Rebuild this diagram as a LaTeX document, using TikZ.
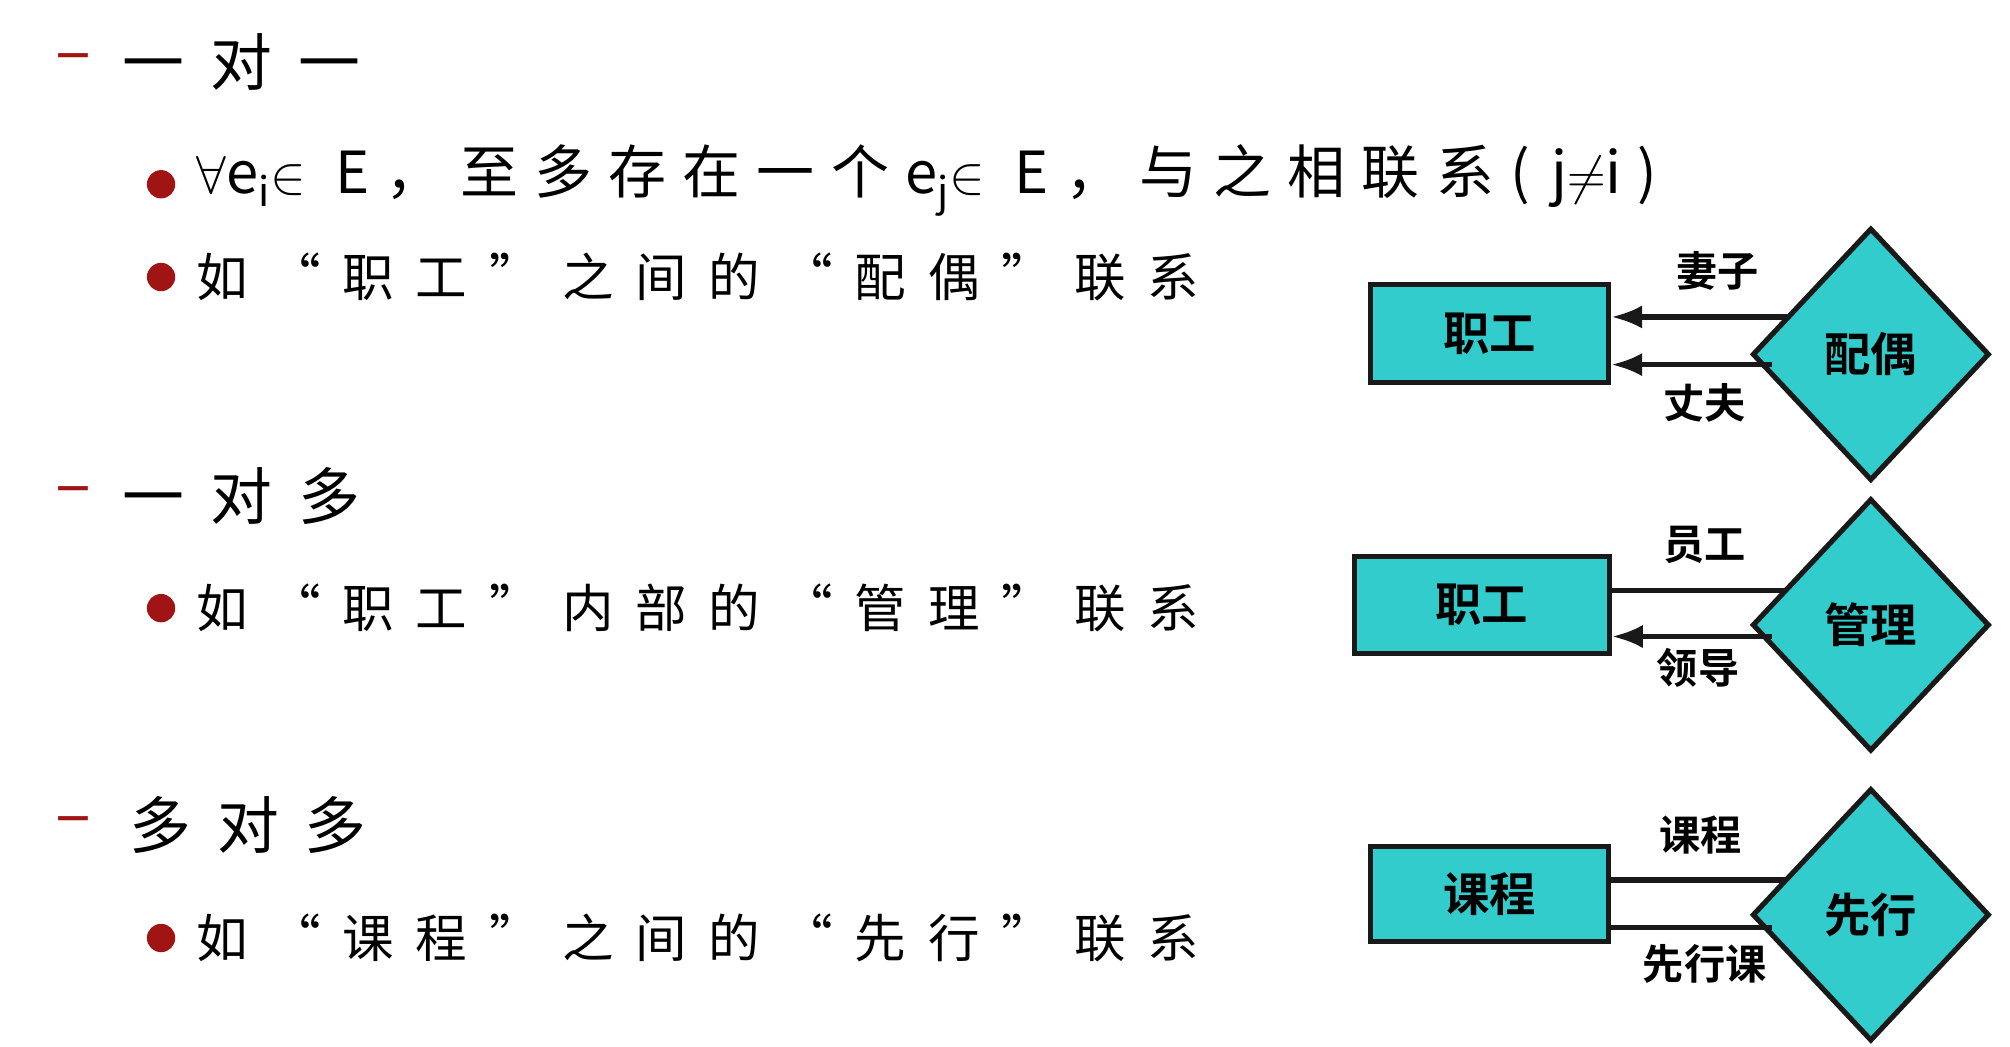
\documentclass[tikz,border=0pt]{standalone}
\usepackage{fontspec}
\usetikzlibrary{shapes.geometric,arrows.meta}
\newfontfamily\cjk{Noto Sans CJK SC}
\newfontfamily\cjkb{Noto Sans CJK SC Bold}
\newfontfamily\cjksp[LetterSpace=42]{Noto Sans CJK SC}
\newfontfamily\cjkone[LetterSpace=28]{Noto Sans CJK SC}
\definecolor{dred}{RGB}{160,20,20}
\definecolor{teal}{RGB}{51,204,204}
\begin{document}
\begin{tikzpicture}[x=0.5pt,y=-0.5pt,
  head/.style={anchor=west,font=\cjksp\fontsize{24}{24}\selectfont,inner sep=0},
  item/.style={anchor=west,font=\cjksp\fontsize{20}{20}\selectfont,inner sep=0},
  dashmark/.style={anchor=center,text=dred,font=\cjk\fontsize{26}{26}\selectfont,inner sep=0},
  ent/.style={draw=black!90,line width=2pt,fill=teal,font=\cjkb\fontsize{18}{18}\selectfont,inner sep=0},
  rel/.style={diamond,draw=black!90,line width=2pt,fill=teal,font=\cjkb\fontsize{18}{18}\selectfont,inner sep=0,minimum width=92pt,minimum height=98pt},
  lab/.style={font=\cjkb\fontsize{16}{16}\selectfont,inner sep=0},
  conn/.style={line width=2pt,draw=black!90},
  arr/.style={conn,-{Latex[length=12pt,width=9pt]}}]
\useasboundingbox (0,0) rectangle (1560,812);
% headings
\node[dashmark] (m1) at (57,50) {–};
\node[head] (h1) at (95,48) {一对一};
\node[dashmark] (m2) at (57,386) {–};
\node[head] (h2) at (95,385) {一对多};
\node[dashmark] (m3) at (57,642) {–};
\node[head] (h3) at (100,640) {多对多};
% bullets
\foreach \y/\n in {143/b1,215/b2,472/b3,728/b4} \fill[dred] (125,\y) circle (5.5pt);
\node[item,font=\cjkone\fontsize{22.5}{22.5}\selectfont] (t1) at (152,140) {$\forall$e\textsubscript{i}$\in$ E，至多存在一个e\textsubscript{j}$\in$ E，与之相联系(j$\neq$i)};
\node[item] (t2) at (152,215) {如“职工”之间的“配偶”联系};
\node[item] (t3) at (152,472) {如“职工”内部的“管理”联系};
\node[item] (t4) at (152,728) {如“课程”之间的“先行”联系};
% diagram 1
\node[ent,minimum width=92.5pt,minimum height=38pt] (e1) at (1156,259) {职工};
\node[rel] (r1) at (1452,275) {配偶};
\coordinate (a1) at (1387,246); \coordinate (a2) at (1375,283);
\draw[arr] (a1) -- (a1 -| e1.east);
\draw[arr] (a2) -- (a2 -| e1.east);
\node[lab] (l1) at (1333,210) {妻子};
\node[lab] (l2) at (1323,313) {丈夫};
% diagram 2
\node[ent,minimum width=99pt,minimum height=37.5pt] (e2) at (1150,469.5) {职工};
\node[rel] (r2) at (1452,485) {管理};
\coordinate (a3) at (1387,458); \coordinate (a4) at (1375,494);
\draw[conn] (a3) -- (a3 -| e2.east);
\draw[arr] (a4) -- (a4 -| e2.east);
\node[lab] (l3) at (1323,423) {员工};
\node[lab] (l4) at (1318,518) {领导};
% diagram 3
\node[ent,minimum width=92.5pt,minimum height=37pt] (e3) at (1156,694) {课程};
\node[rel] (r3) at (1452,710) {先行};
\coordinate (a5) at (1387,683); \coordinate (a6) at (1375,720);
\draw[conn] (a5) -- (a5 -| e3.east);
\draw[conn] (a6) -- (a6 -| e3.east);
\node[lab] (l5) at (1320,648) {课程};
\node[lab] (l6) at (1323,748) {先行课};
\end{tikzpicture}
\end{document}
